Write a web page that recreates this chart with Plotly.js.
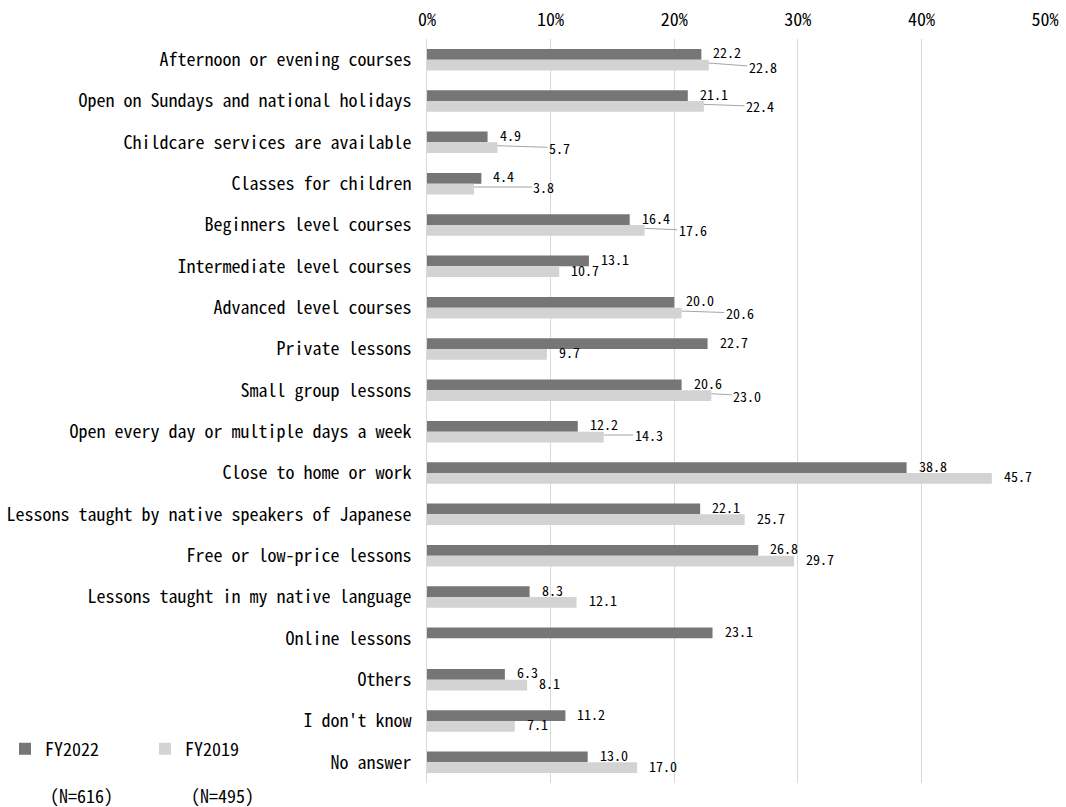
<!DOCTYPE html>
<html><head><meta charset="utf-8">
<script src="https://cdn.plot.ly/plotly-3.0.1.min.js"></script>
<style>html,body{margin:0;padding:0;background:#fff}</style>
</head><body>
<div id="chart" style="width:1066px;height:807px"></div>
<script>
// ---- data ----
const categories = [
  "Afternoon or evening courses",
  "Open on Sundays and national holidays",
  "Childcare services are available",
  "Classes for children",
  "Beginners level courses",
  "Intermediate level courses",
  "Advanced level courses",
  "Private lessons",
  "Small group lessons",
  "Open every day or multiple days a week",
  "Close to home or work",
  "Lessons taught by native speakers of Japanese",
  "Free or low-price lessons",
  "Lessons taught in my native language",
  "Online lessons",
  "Others",
  "I don't know",
  "No answer"
];
const fy2022 = [22.2, 21.1, 4.9, 4.4, 16.4, 13.1, 20.0, 22.7, 20.6, 12.2, 38.8, 22.1, 26.8, 8.3, 23.1, 6.3, 11.2, 13.0];
const fy2019 = [22.8, 22.4, 5.7, 3.8, 17.6, 10.7, 20.6, 9.7, 23.0, 14.3, 45.7, 25.7, 29.7, 12.1, null, 8.1, 7.1, 17.0];
const seriesNames = ["FY2022", "FY2019"];
const sampleSizes = ["(N=616)", "(N=495)"];
const xTickVals = [0, 10, 20, 30, 40, 50];
const xTickText = ["0%", "10%", "20%", "30%", "40%", "50%"];

// ---- styling ----
const W = 1066, H = 807;
const margin = {l: 427, r: 21, t: 39, b: 24, autoexpand: false};
const colors = ["#767676", "#d3d3d3"];
const MONO = "'Noto Sans Mono CJK JP', 'Noto Sans Mono CJK SC', 'DejaVu Sans Mono', monospace";
const bargap = 0.48;
const labelNudge = 2;
// label leader-line offsets (pixels, text centre relative to bar end) for FY2019 labels
const leader2019 = {0: [54, 4], 1: [56, 2], 2: [62, 2], 3: [70, 0], 4: [48, 2], 6: [58, 2], 8: [36, 2], 9: [45, 0]};

const plotW = W - margin.l - margin.r;
const plotH = H - margin.t - margin.b;
const slot = plotH / categories.length;
const barOffset = slot * (1 - bargap) / 4;

const traces = [fy2022, fy2019].map((vals, s) => ({
  type: "bar",
  orientation: "h",
  name: seriesNames[s],
  y: categories,
  x: vals,
  marker: {color: colors[s], line: {width: 0}},
  hoverinfo: "x+y"
}));

const annotations = [];
[fy2022, fy2019].forEach((vals, s) => {
  vals.forEach((v, i) => {
    if (v === null) return;
    const base = {
      x: v, y: categories[i], xref: "x", yref: "y",
      text: v.toFixed(1),
      font: {family: MONO, size: 14, color: "#000"},
      yshift: (s === 0 ? barOffset : -barOffset) + labelNudge
    };
    if (s === 1 && leader2019[i]) {
      annotations.push(Object.assign(base, {
        showarrow: true, arrowhead: 0, arrowwidth: 1, arrowcolor: "#a6a6a6",
        axref: "pixel", ayref: "pixel",
        ax: leader2019[i][0], ay: leader2019[i][1], standoff: 0
      }));
    } else {
      annotations.push(Object.assign(base, {
        showarrow: false, xanchor: "left", yanchor: "middle", xshift: 10
      }));
    }
  });
});
// sample sizes under legend entries
sampleSizes.forEach((t, k) => {
  annotations.push({
    text: t, showarrow: false, xref: "paper", yref: "paper",
    x: (81 + k * 141 - margin.l) / plotW,
    y: -(795 - (H - margin.b)) / plotH,
    xanchor: "center", yanchor: "middle",
    font: {family: MONO, size: 18, color: "#000"}
  });
});

const layout = {
  width: W, height: H,
  margin: margin,
  paper_bgcolor: "#fff", plot_bgcolor: "#fff",
  barmode: "group",
  bargap: bargap, bargroupgap: 0,
  font: {family: MONO, size: 18, color: "#000"},
  xaxis: {
    side: "top", range: [0, 50], tickvals: xTickVals, ticktext: xTickText,
    showgrid: true, gridcolor: "#d9d9d9", gridwidth: 1,
    zeroline: false, showline: false, ticks: "", ticklabelstandoff: 8, fixedrange: true,
    tickfont: {family: MONO, size: 18, color: "#000"}
  },
  yaxis: {
    type: "category", autorange: false, range: [categories.length - 0.5, -0.5],
    showgrid: false, zeroline: false,
    showline: true, linecolor: "#d9d9d9", linewidth: 1,
    ticks: "outside", ticklen: 11, tickcolor: "rgba(0,0,0,0)",
    tickfont: {family: MONO, size: 18, color: "#000"}, fixedrange: true
  },
  showlegend: true,
  legend: {
    orientation: "h", xref: "container", yref: "container",
    x: 5 / W, xanchor: "left", y: 1 - 749 / H, yanchor: "middle",
    entrywidth: 95, entrywidthmode: "pixels",
    font: {family: MONO, size: 18, color: "#000"},
    itemwidth: 30, traceorder: "normal", bgcolor: "rgba(0,0,0,0)"
  },
  annotations: annotations
};

Plotly.newPlot("chart", traces, layout, {displayModeBar: false, staticPlot: true});
</script>
</body></html>
